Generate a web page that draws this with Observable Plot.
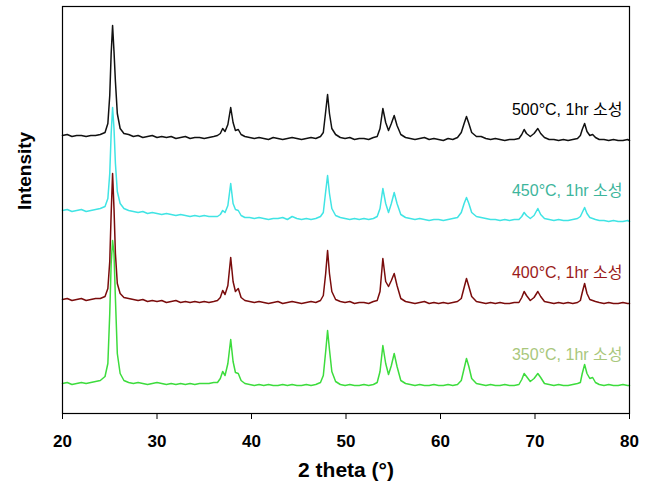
<!DOCTYPE html>
<html>
<head>
<meta charset="utf-8">
<script src="https://cdn.jsdelivr.net/npm/d3@7"></script>
<script src="https://cdn.jsdelivr.net/npm/@observablehq/plot@0.6"></script>
<style>
  html, body { margin: 0; padding: 0; background: #fff; }
  #chart { width: 661px; height: 490px; }
</style>
</head>
<body>
<div id="chart"></div>
<script>
// 2 theta sample positions (degrees)
const twoTheta = [
  20,20.5,21,21.5,22,22.5,23,23.5,24,24.5,
  24.8,25.0,25.15,25.3,25.45,25.6,25.8,26.1,26.5,
  27,27.5,28,28.5,29,29.5,30,30.5,31,31.5,32,32.5,33,33.5,34,34.5,35,35.5,36,
  36.4,36.7,36.95,37.2,37.5,37.8,38.05,38.3,38.6,38.9,39.3,
  39.8,40.3,40.8,41.3,41.8,42.3,42.8,43.3,43.8,44.3,44.8,45.3,45.8,46.3,46.8,47.3,
  47.6,47.85,48.05,48.25,48.5,48.9,
  49.4,49.9,50.4,50.9,51.4,51.9,52.4,52.9,
  53.3,53.6,53.9,54.2,54.5,54.8,55.1,55.4,55.8,56.3,
  56.8,57.3,57.8,58.3,58.8,59.3,59.8,60.3,60.8,61.3,61.8,
  62.2,62.5,62.75,63.0,63.3,63.8,
  64.3,64.8,65.3,65.8,66.3,66.8,67.3,67.8,
  68.3,68.6,68.85,69.1,69.5,69.9,70.3,70.6,71.0,71.5,
  72,72.5,73,73.5,74,74.5,
  74.8,75.0,75.25,75.5,75.8,76.1,76.4,76.8,
  77.3,77.8,78.3,78.8,79.3,79.8,80
];

// Intensities (a.u., stacked as drawn)
const i500 = [
  278,279,277,278,278,277,278,278,279,281,
  290,318,360,388,362,332,300,285,280,
  279,277,278,276,277,278,276,277,276,277,275,276,277,275,276,276,275,276,277,
  278,280,285,282,289,306,291,283,284,279,277,
  276,275,276,275,274,276,275,274,275,276,275,274,275,276,275,277,
  281,302,319,300,285,279,
  276,275,276,274,275,275,274,276,
  277,285,305,291,283,290,298,288,279,276,
  275,274,275,276,274,275,274,273,275,274,276,
  281,290,297,290,281,277,
  277,275,274,275,274,273,274,274,
  275,279,284,280,277,280,285,280,276,274,
  274,273,274,273,274,275,
  278,284,290,282,278,279,276,274,
  274,273,274,273,273,274,273
];
const i450 = [
  203,204,202,203,204,202,203,204,205,207,
  215,240,280,306,285,250,222,210,205,
  203,202,201,202,200,201,200,199,200,199,198,199,198,197,198,197,198,197,197,
  197,199,203,201,208,230,210,204,203,198,196,
  196,195,196,195,194,195,195,196,194,197,195,194,195,194,195,197,
  201,222,238,220,205,198,
  196,195,194,195,194,195,194,195,
  197,205,225,210,201,210,221,210,199,196,
  195,194,195,194,193,194,194,193,194,195,196,
  201,210,216,210,201,197,
  196,195,194,194,193,194,193,194,
  194,197,201,198,195,198,205,199,195,194,
  193,194,193,193,194,195,
  197,201,206,200,196,195,194,193,
  193,192,193,192,192,193,192
];
const i400 = [
  114,115,113,114,115,113,114,115,115,117,
  125,152,200,240,205,160,130,120,116,
  115,114,113,114,112,113,112,113,111,112,113,111,112,111,112,111,112,111,112,
  113,116,123,119,128,156,132,122,125,116,113,
  112,111,112,111,110,111,112,110,111,112,111,110,111,112,111,113,
  118,140,163,140,122,114,
  112,111,112,110,111,111,110,112,
  113,122,155,132,127,133,140,128,115,112,
  111,110,111,112,110,111,110,111,110,111,112,
  115,126,135,127,117,112,
  111,110,111,110,111,110,110,111,
  111,116,122,118,113,116,122,117,112,111,
  110,111,110,111,110,111,
  113,121,130,120,114,113,112,111,
  110,111,110,110,111,110,110
];
const i350 = [
  30,31,29,30,31,30,31,32,33,37,
  50,100,150,173,160,115,60,40,33,
  31,30,31,30,29,30,31,30,29,30,29,30,29,30,29,30,30,30,31,
  31,35,42,38,50,74,52,41,40,33,30,
  29,28,29,28,29,28,28,29,28,29,28,28,29,28,29,31,
  38,62,83,64,42,32,
  29,28,29,28,28,29,28,29,
  31,42,68,50,39,48,60,47,33,30,
  29,28,29,28,28,29,28,28,29,28,29,
  33,45,55,47,35,30,
  29,28,29,28,28,29,28,28,
  29,34,40,37,32,35,40,36,30,29,
  28,29,28,28,29,30,
  31,40,49,40,35,36,31,29,
  28,29,28,28,29,28,28
];

const seriesNames = ["350°C, 1hr 소성", "400°C, 1hr 소성", "450°C, 1hr 소성", "500°C, 1hr 소성"];
const seriesValues = [i350, i400, i450, i500];
const lineColors = ["#3ddc3d", "#7a0c0c", "#40e4e4", "#111111"];
const labelColors = ["#a9c77c", "#9a1a1a", "#3db59c", "#000000"];
const xTicks = [20, 30, 40, 50, 60, 70, 80];

seriesValues.forEach((s, k) => {
  if (s.length !== twoTheta.length) console.error("length mismatch", seriesNames[k], s.length, twoTheta.length);
});

const rows = seriesValues.flatMap((s, k) =>
  twoTheta.map((x, i) => ({x, y: s[i], series: seriesNames[k]})));
const labelRows = seriesValues.map((s, k) =>
  ({x: twoTheta[twoTheta.length - 1], y: s[s.length - 1], series: seriesNames[k], color: labelColors[k]}));

const font = "Arial, 'Liberation Sans', 'Noto Sans CJK KR', sans-serif";

const chart = Plot.plot({
  width: 661,
  height: 490,
  marginLeft: 62,
  marginRight: 32,
  marginTop: 6,
  marginBottom: 77,
  style: {fontFamily: font, background: "#fff", color: "#000"},
  x: {domain: [20, 80]},
  y: {domain: [0, 407], axis: null},
  color: {domain: seriesNames, range: lineColors},
  marks: [
    Plot.line(rows, {x: "x", y: "y", z: "series", stroke: "series", strokeWidth: 1.5, curve: "linear"}),
    Plot.frame({stroke: "#000", strokeWidth: 1.2}),
    Plot.axisX({ticks: xTicks, tickSize: 6, tickPadding: 15, fontSize: 17, fontWeight: "bold", label: null, stroke: "#000"}),
    Plot.text(labelRows, {x: "x", y: "y", text: "series", fill: "color", textAnchor: "end", dx: -7, dy: -31, fontSize: 16, fontFamily: font}),
    Plot.text(["2 theta (°)"], {frameAnchor: "bottom", dy: 63, fontSize: 21, fontWeight: "bold", fontFamily: font}),
    Plot.text(["Intensity"], {frameAnchor: "left", dx: -38, rotate: -90, fontSize: 19, fontWeight: "bold", fontFamily: font})
  ]
});
document.getElementById("chart").appendChild(chart);
</script>
</body>
</html>
